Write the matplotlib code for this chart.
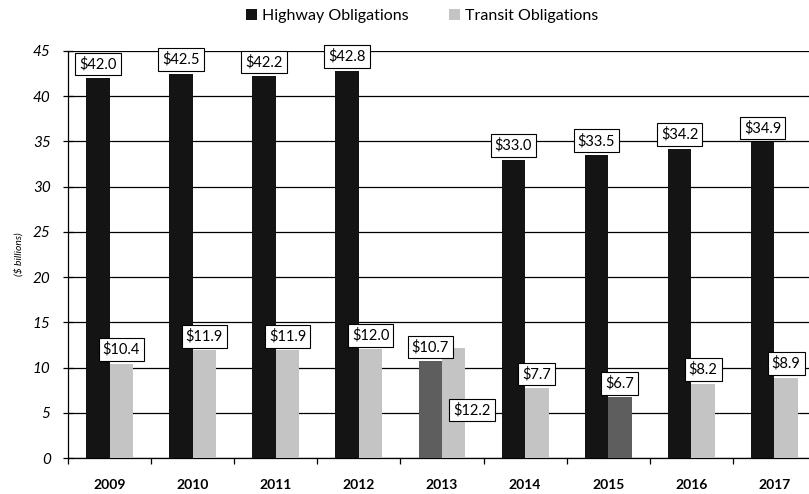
import matplotlib
matplotlib.use("Agg")
import matplotlib.pyplot as plt
from matplotlib.patches import Patch
import numpy as np

years = ["2009", "2010", "2011", "2012", "2013", "2014", "2015", "2016", "2017"]
highway = [42.0, 42.5, 42.2, 42.8, 10.7, 33.0, 33.5, 34.2, 34.9]
transit = [10.4, 11.9, 11.9, 12.0, 12.2, 7.7, 6.7, 8.2, 8.9]
yticks = [0, 5, 10, 15, 20, 25, 30, 35, 40, 45]

BLACK = "#141414"
LIGHT = "#c4c4c4"
DARK = "#5e5e5e"
highway_colors = [BLACK, BLACK, BLACK, BLACK, DARK, BLACK, BLACK, BLACK, BLACK]
transit_colors = [LIGHT, LIGHT, LIGHT, LIGHT, LIGHT, LIGHT, DARK, LIGHT, LIGHT]

plt.rcParams['font.family'] = ['Lato', 'DejaVu Sans']

fig = plt.figure(figsize=(8.09, 4.94), dpi=100)
W, H = 809, 494
x0, x1 = 68, 816
y0, y1 = 458, 51
ax = fig.add_axes([x0 / W, (H - y0) / H, (x1 - x0) / W, (y0 - y1) / H])

x = np.arange(len(years))
bw = 0.283
off = 0.141
ax.bar(x - off, highway, width=bw, color=highway_colors, zorder=3)
ax.bar(x + off, transit, width=bw, color=transit_colors, zorder=3)

ax.set_xlim(-0.5, len(years) - 0.5)
ax.set_ylim(0, 45)
ax.set_yticks(yticks)
ax.set_yticklabels([str(v) for v in yticks], fontstyle='italic', fontsize=11)
ax.yaxis.grid(True, color='black', linewidth=0.9, zorder=1)
ax.set_axisbelow(True)

ax.set_xticks(x)
ax.set_xticklabels(years, fontweight='bold', fontsize=10)
ax.set_xticks(np.arange(len(years) + 1) - 0.5, minor=True)
ax.tick_params(axis='x', which='major', length=0, pad=15)
ax.tick_params(axis='x', which='minor', length=4, direction='out', width=0.9)
ax.tick_params(axis='y', which='major', length=7, direction='inout', width=0.9, pad=9)

for s in ['top', 'right']:
    ax.spines[s].set_visible(False)
for s in ['left', 'bottom']:
    ax.spines[s].set_color('black')
    ax.spines[s].set_linewidth(0.9)

ax.set_ylabel("($ billions)", fontstyle='italic', fontsize=7.5, labelpad=7)

bbox = dict(boxstyle='square,pad=0.28', fc='white', ec='black', lw=0.8)
for i in range(len(years)):
    ax.annotate(f"${highway[i]:.1f}", (x[i] - off, highway[i]), xytext=(0, 5),
                textcoords='offset points', ha='center', va='bottom',
                fontsize=10.5, bbox=bbox, zorder=5, annotation_clip=False)
    if years[i] == "2013":
        ax.annotate(f"${transit[i]:.1f}", (x[i] + off, transit[i]), xytext=(13, -45),
                    textcoords='offset points', ha='center', va='center',
                    fontsize=10.5, bbox=bbox, zorder=5)
    else:
        ax.annotate(f"${transit[i]:.1f}", (x[i] + off, transit[i]), xytext=(0, 5),
                    textcoords='offset points', ha='center', va='bottom',
                    fontsize=10.5, bbox=bbox, zorder=5)

handles = [Patch(facecolor=BLACK, label='Highway Obligations'),
           Patch(facecolor=LIGHT, label='Transit Obligations')]
fig.legend(handles=handles, loc='center', bbox_to_anchor=(422 / W, (H - 16) / H),
           ncol=2, frameon=False, fontsize=11.5, handlelength=0.7, handleheight=0.7,
           handletextpad=0.3, columnspacing=2.5)

fig.savefig("out.png", dpi=100)
